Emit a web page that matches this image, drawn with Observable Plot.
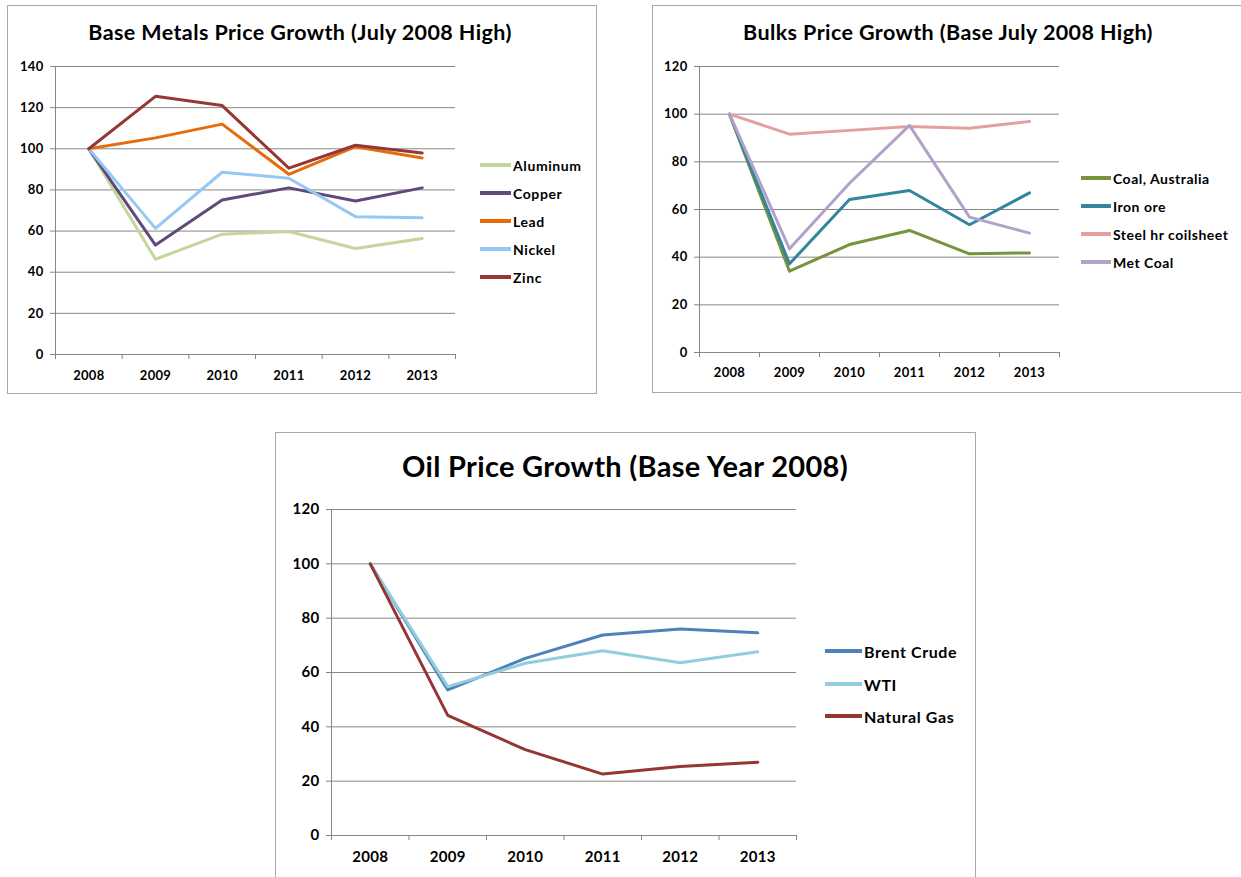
<!DOCTYPE html>
<html><head><meta charset="utf-8">
<script src="https://cdn.jsdelivr.net/npm/d3@7"></script>
<script src="https://cdn.jsdelivr.net/npm/@observablehq/plot@0.6"></script>
<style>
body{margin:0;background:#fff;width:1241px;height:877px;overflow:hidden;position:relative;font-family:Lato,"Open Sans",sans-serif;}
.panel{position:absolute;border:1.5px solid #a9a9a9;box-sizing:border-box;}
.title{position:absolute;font-weight:bold;color:#000;white-space:nowrap;text-align:center;}
.chart{position:absolute;}
.item{position:absolute;display:flex;align-items:center;white-space:nowrap;font-weight:bold;color:#000;}
.swatch{display:inline-block;height:3.5px;}
</style></head><body>
<script>
// ---------- data ----------
const years = [2008, 2009, 2010, 2011, 2012, 2013];

const metalNames = ["Aluminum", "Copper", "Lead", "Nickel", "Zinc"];
const metalColors = ["#c3d69b", "#604a7b", "#e46c0a", "#95c8f5", "#953735"];
const aluminum = [100, 46.3, 58.5, 59.8, 51.5, 56.4];
const copper   = [100, 53.2, 75.1, 81.0, 74.6, 81.0];
const lead     = [100, 105.3, 112.0, 87.6, 101.0, 95.5];
const nickel   = [100, 61.3, 88.6, 85.7, 67.0, 66.5];
const zinc     = [100, 125.5, 121.0, 90.6, 101.7, 97.9];

const bulkNames = ["Coal, Australia", "Iron ore", "Steel hr coilsheet", "Met Coal"];
const bulkColors = ["#77933c", "#31859c", "#e3a09e", "#b3a2c7"];
const coalAustralia = [100, 34.1, 45.3, 51.2, 41.4, 41.8];
const ironOre       = [100, 37.2, 64.2, 68.0, 53.6, 67.0];
const steelHr       = [100, 91.6, 93.2, 94.8, 94.1, 96.9];
const metCoal       = [100, 43.5, 71.0, 95.3, 56.8, 50.1];

const oilNames = ["Brent Crude", "WTI", "Natural Gas"];
const oilColors = ["#4f81bd", "#93cddd", "#943634"];
const brent  = [100, 53.6, 65.2, 73.8, 76.0, 74.6];
const wti    = [100, 54.8, 63.4, 68.0, 63.6, 67.6];
const natGas = [100, 44.2, 31.6, 22.6, 25.4, 27.0];

const metalsTicks = [0, 20, 40, 60, 80, 100, 120, 140];
const bulksTicks  = [0, 20, 40, 60, 80, 100, 120];
const oilTicks    = [0, 20, 40, 60, 80, 100, 120];

// ---------- helpers ----------
const FONT = 'Lato, "Open Sans", sans-serif';
const GRID = "#868686";

function el(tag, cls, style, text) {
  const e = document.createElement(tag);
  if (cls) e.className = cls;
  Object.assign(e.style, style || {});
  if (text != null) e.textContent = text;
  document.body.appendChild(e);
  return e;
}

function chart(o) {
  const data = o.names.flatMap((n, k) => years.map((yr, i) => ({year: yr, value: o.values[k][i], name: n})));
  const bounds = years.map(y => y - 0.5).concat([years[years.length - 1] + 0.5]);
  const yMax = o.ticks[o.ticks.length - 1];
  const svg = Plot.plot({
    width: o.w, height: o.h,
    marginLeft: o.ml, marginRight: o.mr, marginTop: o.mt, marginBottom: o.mb,
    x: {domain: [bounds[0], bounds[bounds.length - 1]], label: null},
    y: {domain: [0, yMax], label: null},
    color: {domain: o.names, range: o.colors},
    style: {fontFamily: FONT, fontSize: o.tickFont + "px", fontWeight: "bold", color: "#000", background: "transparent", overflow: "visible", letterSpacing: "0.3px"},
    marks: [
      Plot.gridY({ticks: o.ticks.slice(1), stroke: GRID, strokeOpacity: 1, strokeWidth: 1}),
      Plot.ruleY([0], {stroke: GRID, strokeWidth: 1}),
      Plot.ruleX([bounds[0]], {stroke: GRID, strokeWidth: 1}),
      Plot.axisY({ticks: o.ticks, tickSize: 5, tickPadding: 7, stroke: GRID, strokeOpacity: 1, label: null, fill: "#000"}),
      Plot.axisX({ticks: bounds, tickSize: 5, tickFormat: () => "", stroke: GRID, strokeOpacity: 1, label: null}),
      Plot.axisX({ticks: years, tickSize: 0, tickPadding: o.xPad, tickFormat: d => String(d), label: null, fill: "#000"}),
      Plot.line(data, {x: "year", y: "value", z: "name", stroke: "name", strokeWidth: 3, strokeLinejoin: "round", strokeLinecap: "round"})
    ]
  });
  svg.classList.add("chart");
  Object.assign(svg.style, {left: o.left + "px", top: o.top + "px"});
  document.body.appendChild(svg);
}

function legend(o) {
  o.names.forEach((n, i) => {
    const it = el("div", "item", {left: o.x + "px", top: (o.ys[i] - 10) + "px", height: "20px", fontSize: o.font + "px", letterSpacing: o.ls + "px"});
    const sw = document.createElement("span");
    sw.className = "swatch";
    Object.assign(sw.style, {width: o.sw + "px", background: o.colors[i], marginRight: "2px"});
    it.appendChild(sw);
    const t = document.createElement("span");
    t.textContent = n;
    it.appendChild(t);
  });
}

function title(text, cx, cy, size, ls) {
  el("div", "title", {left: (cx - 400) + "px", width: "800px", top: (cy - size * 0.62) + "px", fontSize: size + "px", lineHeight: (size * 1.2) + "px", letterSpacing: ls + "px"}, text);
}

// ---------- panels ----------
el("div", "panel", {left: "7px", top: "5px", width: "590px", height: "389px"});
el("div", "panel", {left: "652px", top: "5px", width: "600px", height: "388px"});
el("div", "panel", {left: "275px", top: "432px", width: "701px", height: "460px"});

title("Base Metals Price Growth (July 2008 High)", 300, 33, 21.5, 0.4);
title("Bulks Price Growth (Base July 2008 High)", 948, 33, 21.5, 0.4);
title("Oil Price Growth (Base Year 2008)", 625, 467, 29, 0.3);

chart({names: metalNames, colors: metalColors, values: [aluminum, copper, lead, nickel, zinc], ticks: metalsTicks,
  left: 0, top: 50, w: 470, h: 350, ml: 55, mr: 15, mt: 16, mb: 46, tickFont: 13, xPad: 16});
chart({names: bulkNames, colors: bulkColors, values: [coalAustralia, ironOre, steelHr, metCoal], ticks: bulksTicks,
  left: 652, top: 50, w: 420, h: 350, ml: 47, mr: 13, mt: 16, mb: 48, tickFont: 13, xPad: 15});
chart({names: oilNames, colors: oilColors, values: [brent, wti, natGas], ticks: oilTicks,
  left: 275, top: 490, w: 540, h: 387, ml: 56, mr: 19, mt: 19, mb: 42, tickFont: 15, xPad: 16});

legend({names: metalNames, colors: metalColors, x: 480, ys: [165, 193, 221, 249, 277], sw: 31, font: 14, ls: 0.6});
legend({names: bulkNames, colors: bulkColors, x: 1081, ys: [178, 206, 234, 262], sw: 30, font: 14, ls: 0.5});
legend({names: oilNames, colors: oilColors, x: 825, ys: [651, 684, 716], sw: 37, font: 16, ls: 0.6});
</script>
</body></html>
